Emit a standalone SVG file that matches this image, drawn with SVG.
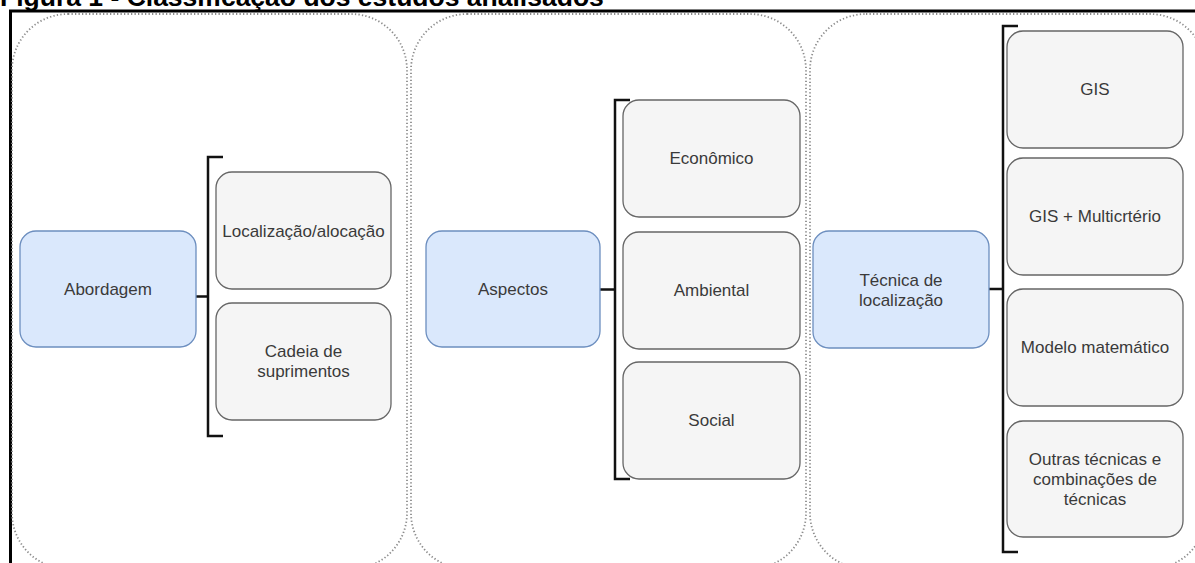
<svg xmlns="http://www.w3.org/2000/svg" width="1195" height="563" viewBox="0 0 1195 563">
  <style>
    .title { font-family: "Liberation Sans", Arial, sans-serif; font-weight: bold; font-size: 26.5px; fill: #000; }
    .lane { fill: none; stroke: #8c8c8c; stroke-width: 1.8; stroke-dasharray: 1.3 2.2; }
    .frame { fill: none; stroke: #000; stroke-width: 3; }
    .main rect { fill: #dae8fc; stroke: #6c8ebf; stroke-width: 1.3; }
    .item rect { fill: #f5f5f5; stroke: #666; stroke-width: 1.3; }
    text.lbl { font-family: "Liberation Sans", Arial, sans-serif; font-size: 17px; fill: #3a3a3a; text-anchor: middle; dominant-baseline: central; }
    .brk { fill: none; stroke: #111; stroke-width: 2.5; }
  </style>

  <rect width="1195" height="563" fill="#fff"/>

  <!-- caption, partly above the frame -->
  <text class="title" x="0" y="6">Figura 1 - Classificação dos estudos analisados</text>

  <!-- outer frame (left and top edges) -->
  <path class="frame" d="M10.5,10 V563 M9,11 H1195"/>

  <!-- dotted swimlanes -->
  <g id="lanes">
    <rect class="lane" x="12" y="14" width="395" height="555" rx="56" ry="56"/>
    <rect class="lane" x="411" y="14" width="395" height="555" rx="56" ry="56"/>
    <rect class="lane" x="810" y="14" width="396" height="555" rx="56" ry="56"/>
  </g>

  <!-- connectors: brackets and their stems -->
  <g id="connectors">
    <path class="brk" d="M196,296.5 H208 M223,157 H208 V436 H223"/>
    <path class="brk" d="M600,289.5 H615 M630,100 H615 V479 H630"/>
    <path class="brk" d="M989,289 H1003 M1018,26 H1003 V552 H1018"/>
  </g>

  <!-- column 1 -->
  <g id="abordagem" class="main">
    <rect x="20" y="231" width="176" height="116" rx="16"/>
    <text class="lbl" x="108" y="289">Abordagem</text>
  </g>
  <g id="localizacao-alocacao" class="item">
    <rect x="216" y="172" width="175" height="117" rx="16"/>
    <text class="lbl" x="303.5" y="231">Localização/alocação</text>
  </g>
  <g id="cadeia-suprimentos" class="item">
    <rect x="216" y="303" width="175" height="117" rx="16"/>
    <text class="lbl" x="303.5" y="351.5">Cadeia de</text>
    <text class="lbl" x="303.5" y="371.5">suprimentos</text>
  </g>

  <!-- column 2 -->
  <g id="aspectos" class="main">
    <rect x="426" y="231" width="174" height="116" rx="16"/>
    <text class="lbl" x="513" y="289">Aspectos</text>
  </g>
  <g id="economico" class="item">
    <rect x="623" y="100" width="177" height="117" rx="16"/>
    <text class="lbl" x="711.5" y="158.5">Econômico</text>
  </g>
  <g id="ambiental" class="item">
    <rect x="623" y="232" width="177" height="117" rx="16"/>
    <text class="lbl" x="711.5" y="290.5">Ambiental</text>
  </g>
  <g id="social" class="item">
    <rect x="623" y="362" width="177" height="117" rx="16"/>
    <text class="lbl" x="711.5" y="420.5">Social</text>
  </g>

  <!-- column 3 -->
  <g id="tecnica-localizacao" class="main">
    <rect x="813" y="231" width="176" height="117" rx="16"/>
    <text class="lbl" x="901" y="280">Técnica de</text>
    <text class="lbl" x="901" y="300">localização</text>
  </g>
  <g id="gis" class="item">
    <rect x="1007" y="31" width="176" height="117" rx="16"/>
    <text class="lbl" x="1095" y="89.5">GIS</text>
  </g>
  <g id="gis-multicriterio" class="item">
    <rect x="1007" y="158" width="176" height="117" rx="16"/>
    <text class="lbl" x="1095" y="216.5">GIS + Multicrtério</text>
  </g>
  <g id="modelo-matematico" class="item">
    <rect x="1007" y="289" width="176" height="117" rx="16"/>
    <text class="lbl" x="1095" y="347.5">Modelo matemático</text>
  </g>
  <g id="outras-tecnicas" class="item">
    <rect x="1007" y="421" width="176" height="116" rx="16"/>
    <text class="lbl" x="1095" y="459">Outras técnicas e</text>
    <text class="lbl" x="1095" y="479">combinações de</text>
    <text class="lbl" x="1095" y="499">técnicas</text>
  </g>
</svg>
